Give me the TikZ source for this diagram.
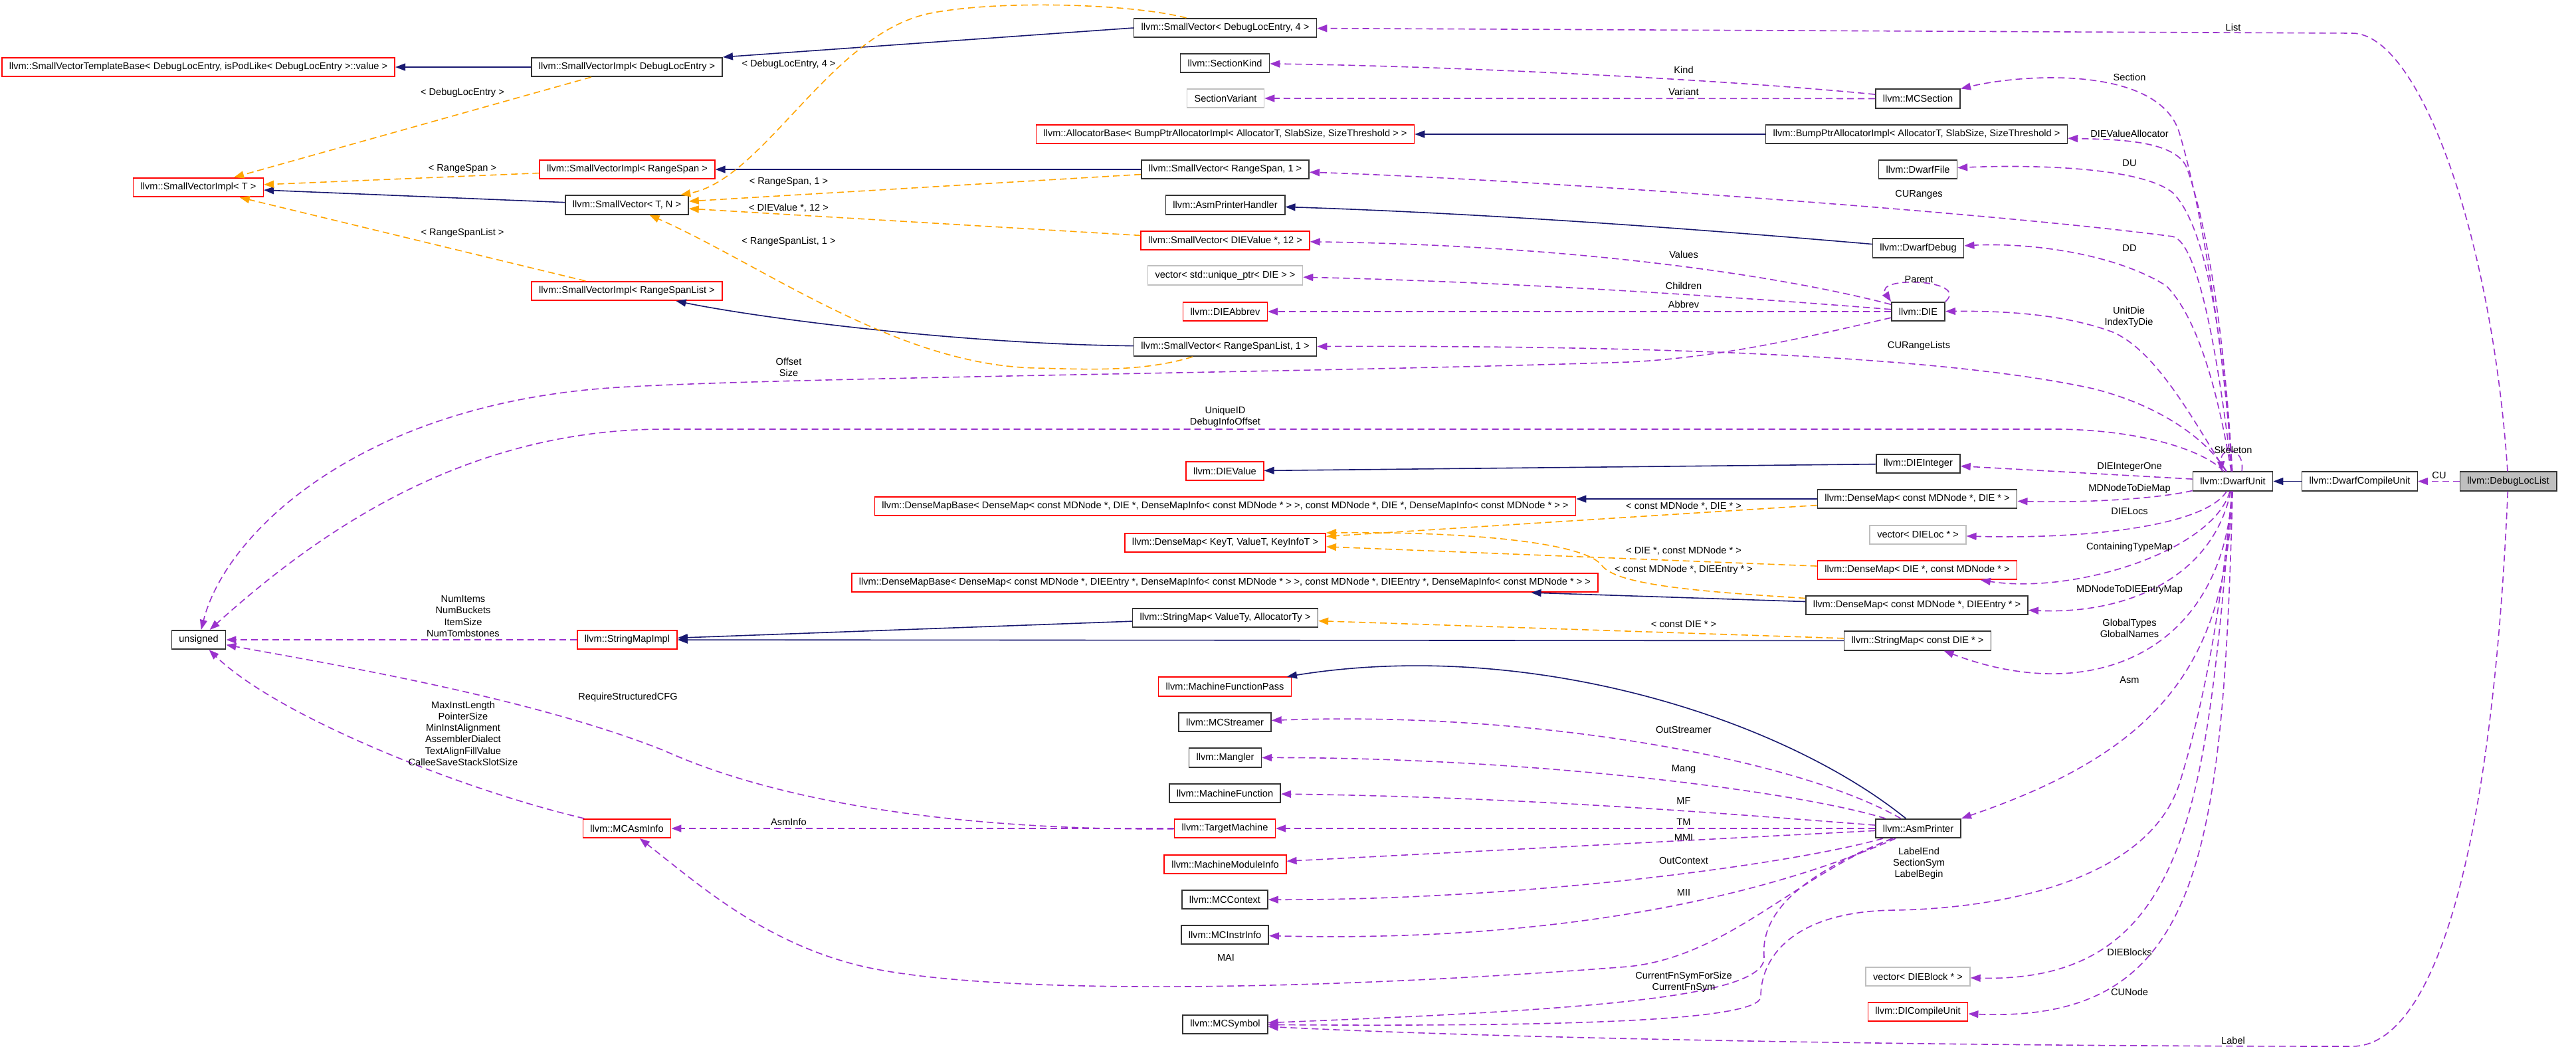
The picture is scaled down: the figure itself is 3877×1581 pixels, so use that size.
\documentclass[tikz,border=0pt]{standalone}
\usepackage{fontspec}
\setmainfont{Liberation Sans}
\usetikzlibrary{arrows.meta}
\definecolor{usecol}{HTML}{9A32CD}
\definecolor{tplcol}{HTML}{FFA500}
\definecolor{inhcol}{HTML}{191970}
\definecolor{boxgray}{HTML}{BFBFBF}

\tikzset{
  cls/.style={draw=black!80, line width=0.8pt, fill=white, inner xsep=5.5pt, inner ysep=0pt,
    minimum height=14.25pt, font=\fontsize{7.3pt}{8.6pt}\selectfont},
  clsred/.style={cls, draw=red},
  clsgray/.style={cls, draw=boxgray},
  lbl/.style={inner sep=0pt, align=center, font=\fontsize{7.3pt}{8.6pt}\selectfont},
  inh/.style={draw=inhcol, line width=0.8pt, -{Triangle[length=7.5pt,width=5.5pt]}},
  tpl/.style={draw=tplcol, line width=0.8pt, dash pattern=on 5pt off 3pt, -{Triangle[length=7.5pt,width=5.5pt]}},
  usg/.style={draw=usecol, line width=0.8pt, dash pattern=on 5pt off 3pt, -{Triangle[length=7.5pt,width=5.5pt]}},
}

\begin{document}
\begin{tikzpicture}[x=0.5pt,y=-0.5pt]
  \fill[white] (0,0) rectangle (3877,1581);
  \useasboundingbox (0,0) rectangle (3877,1581);

  % classes
  \node[clsred] (svtb) at (298.5,101) {llvm::SmallVectorTemplateBase< DebugLocEntry, isPodLike< DebugLocEntry >::value >};
  \node[cls] (sviDLE) at (943.5,101) {llvm::SmallVectorImpl< DebugLocEntry >};
  \node[clsred] (sviT) at (298.5,282) {llvm::SmallVectorImpl< T >};
  \node[clsred] (sviRS) at (944,255) {llvm::SmallVectorImpl< RangeSpan >};
  \node[cls] (svTN) at (943.5,308.5) {llvm::SmallVector< T, N >};
  \node[clsred] (sviRSL) at (943.5,438) {llvm::SmallVectorImpl< RangeSpanList >};
  \node[cls] (svDLE) at (1844,42) {llvm::SmallVector< DebugLocEntry, 4 >};
  \node[cls] (secKind) at (1843.5,95) {llvm::SectionKind};
  \node[clsgray] (secVar) at (1844.5,148) {SectionVariant};
  \node[clsred] (allocBase) at (1844,202) {llvm::AllocatorBase< BumpPtrAllocatorImpl< AllocatorT, SlabSize, SizeThreshold > >};
  \node[cls] (svRS) at (1844,255) {llvm::SmallVector< RangeSpan, 1 >};
  \node[cls] (asmHandler) at (1844,308.5) {llvm::AsmPrinterHandler};
  \node[clsred] (svVal) at (1844,362) {llvm::SmallVector< DIEValue *, 12 >};
  \node[clsgray] (vecDIE) at (1844,414.5) {vector< std::unique\_ptr< DIE > >};
  \node[clsred] (dieAbbrev) at (1844,469) {llvm::DIEAbbrev};
  \node[cls] (svRSL) at (1844,522) {llvm::SmallVector< RangeSpanList, 1 >};
  \node[cls] (mcSection) at (2886.5,148.5) {llvm::MCSection};
  \node[cls] (bumpAlloc) at (2884.5,202) {llvm::BumpPtrAllocatorImpl< AllocatorT, SlabSize, SizeThreshold >};
  \node[cls] (dwarfFile) at (2886.5,255) {llvm::DwarfFile};
  \node[cls] (dwarfDebug) at (2887,373.5) {llvm::DwarfDebug};
  \node[cls] (die) at (2887,469) {llvm::DIE};
  \node[cls] (unsignedN) at (299,963) {unsigned};
  \node[clsred] (smImpl) at (944,963) {llvm::StringMapImpl};
  \node[clsred] (dieValue) at (1843.5,709) {llvm::DIEValue};
  \node[clsred] (dmBase1) at (1844,762) {llvm::DenseMapBase< DenseMap< const MDNode *, DIE *, DenseMapInfo< const MDNode * > >, const MDNode *, DIE *, DenseMapInfo< const MDNode * > >};
  \node[clsred] (dmKey) at (1844,817) {llvm::DenseMap< KeyT, ValueT, KeyInfoT >};
  \node[clsred] (dmBase2) at (1843.5,877) {llvm::DenseMapBase< DenseMap< const MDNode *, DIEEntry *, DenseMapInfo< const MDNode * > >, const MDNode *, DIEEntry *, DenseMapInfo< const MDNode * > >};
  \node[cls] (smValTy) at (1844,930) {llvm::StringMap< ValueTy, AllocatorTy >};
  \node[clsred] (mfPass) at (1843.5,1033.5) {llvm::MachineFunctionPass};
  \node[cls] (dieInt) at (2887,698) {llvm::DIEInteger};
  \node[cls] (dwarfUnit) at (3360.5,724.5) {llvm::DwarfUnit};
  \node[cls] (dwarfCU) at (3551.5,724.5) {llvm::DwarfCompileUnit};
  \node[cls, fill=boxgray] (dbgLocList) at (3775,724.5) {llvm::DebugLocList};
  \node[cls] (dmDIE) at (2885.5,751) {llvm::DenseMap< const MDNode *, DIE * >};
  \node[clsgray] (vecLoc) at (2886.5,805) {vector< DIELoc * >};
  \node[clsred] (dmMD) at (2885.5,858) {llvm::DenseMap< DIE *, const MDNode * >};
  \node[cls] (dmEntry) at (2885,911) {llvm::DenseMap< const MDNode *, DIEEntry * >};
  \node[cls] (smDIE) at (2886,964.5) {llvm::StringMap< const DIE * >};
  \node[clsred] (mcAsmInfo) at (943.5,1247) {llvm::MCAsmInfo};
  \node[cls] (mcStreamer) at (1843.5,1087) {llvm::MCStreamer};
  \node[cls] (mangler) at (1844,1140.5) {llvm::Mangler};
  \node[cls] (machFunc) at (1843.5,1194) {llvm::MachineFunction};
  \node[clsred] (targetMach) at (1843.5,1247) {llvm::TargetMachine};
  \node[clsred] (mmInfo) at (1844,1301) {llvm::MachineModuleInfo};
  \node[cls] (mcContext) at (1843.5,1354) {llvm::MCContext};
  \node[cls] (mcInstr) at (1843.5,1407) {llvm::MCInstrInfo};
  \node[cls] (mcSymbol) at (1844,1542) {llvm::MCSymbol};
  \node[cls] (asmPrinter) at (2887,1247) {llvm::AsmPrinter};
  \node[clsgray] (vecBlock) at (2886.5,1470) {vector< DIEBlock * >};
  \node[clsred] (diCU) at (2886.5,1523) {llvm::DICompileUnit};

  % inheritance
  \draw[inh] (sviDLE) -- (svtb);
  \draw[inh] (svDLE.west) -- (sviDLE.north east);
  \draw[inh] (svTN) -- (sviT);
  \draw[inh] (svRS) -- (sviRS);
  \draw[inh] (svRSL) .. controls (1450,518) and (1150,480) .. (sviRSL);
  \draw[inh] (bumpAlloc) -- (allocBase);
  \draw[inh] (dwarfDebug) .. controls (2500,340) and (2200,320) .. (asmHandler);
  \draw[inh] (dieInt) -- (dieValue);
  \draw[inh] (dmDIE.west) -- (dmBase1.east |- dmDIE.west);
  \draw[inh] (dmEntry) -- (dmBase2);
  \draw[inh] (smValTy) -- (smImpl);
  \draw[inh] (smDIE) -- (smImpl);
  \draw[inh] (asmPrinter) .. controls (2680,1080) and (2300,960) .. (mfPass);
  \draw[inh] (dwarfCU) -- (dwarfUnit);

  % template instances
  \draw[tpl] (sviDLE) -- (sviT);
  \draw[tpl] (sviRS) -- (sviT);
  \draw[tpl] (sviRSL) -- (sviT);
  \draw[tpl] (svDLE) .. controls (1700,5) and (1500,0) .. (1400,20) .. controls (1250,50) and (1150,270) .. (svTN);
  \draw[tpl] (svRS) -- (svTN);
  \draw[tpl] (svVal) -- (svTN);
  \draw[tpl] (svRSL) .. controls (1720,560) and (1640,556) .. (1560,554) .. controls (1350,550) and (1150,400) .. (svTN);
  \draw[tpl] (dmDIE) -- (dmKey);
  \draw[tpl] (dmMD) -- (dmKey);
  \draw[tpl] (dmEntry) .. controls (2550,890) and (2430,880) .. (2410,850) .. controls (2380,815) and (2200,800) .. (dmKey.north east);
  \draw[tpl] (smDIE) -- (smValTy);

  \node[lbl] (lDLE) at (696,140) {< DebugLocEntry >};
  \node[lbl] (lRS) at (696,254) {< RangeSpan >};
  \node[lbl] (lRSL) at (696,351) {< RangeSpanList >};
  \node[lbl] (lDLE4) at (1187,97) {< DebugLocEntry, 4 >};
  \node[lbl] (lRS1) at (1187,274) {< RangeSpan, 1 >};
  \node[lbl] (lVal12) at (1187,313) {< DIEValue *, 12 >};
  \node[lbl] (lRSL1) at (1187,364) {< RangeSpanList, 1 >};
  \node[lbl] (lDMDIE) at (2534,762) {< const MDNode *, DIE * >};
  \node[lbl] (lDMMD) at (2534,829) {< DIE *, const MDNode * >};
  \node[lbl] (lDMEntry) at (2534,858) {< const MDNode *, DIEEntry * >};
  \node[lbl] (lSMDIE) at (2534,940) {< const DIE * >};

  % members
  \draw[usg] (dbgLocList) -- (dwarfCU);
  \draw[usg] (dbgLocList) .. controls (3750,350) and (3640,50) .. (3540,50) -- (svDLE);
  \draw[usg] (dbgLocList) .. controls (3750,1300) and (3660,1575) .. (3540,1575) .. controls (3000,1575) and (2300,1565) .. (mcSymbol);

  \draw[usg] (dwarfUnit) .. controls (3345,500) and (3310,300) .. (3280,200) .. controls (3250,100) and (3050,110) .. (mcSection.north east);
  \draw[usg] (dwarfUnit) .. controls (3345,450) and (3310,300) .. (3290,250) .. controls (3270,210) and (3180,210) .. (bumpAlloc);
  \draw[usg] (dwarfUnit) .. controls (3345,500) and (3320,340) .. (3270,290) .. controls (3220,250) and (3050,248) .. (dwarfFile);
  \draw[usg] (dwarfUnit) .. controls (3340,550) and (3310,365) .. (3270,356) .. controls (3000,320) and (2300,270) .. (svRS);
  \draw[usg] (dwarfUnit) .. controls (3340,600) and (3310,480) .. (3260,430) .. controls (3180,380) and (3050,365) .. (dwarfDebug);
  \draw[usg] (dwarfUnit) .. controls (3310,650) and (3250,530) .. (3180,500) .. controls (3100,470) and (3000,468) .. (die);
  \draw[usg] (dwarfUnit) .. controls (3320,660) and (3250,610) .. (3150,585) .. controls (2900,530) and (2400,520) .. (svRSL);
  \draw[usg] (dwarfUnit) .. controls (3320,680) and (3230,648) .. (3100,646) -- (1000,646) .. controls (700,646) and (480,800) .. (unsignedN);
  \draw[usg] (dwarfUnit.48) .. controls +(5,-38) and +(-3,-38) .. (dwarfUnit.138);
  \draw[usg] (dwarfUnit) -- (dieInt);
  \draw[usg] (dwarfUnit) .. controls (3250,750) and (3150,757) .. (dmDIE);
  \draw[usg] (dwarfUnit) .. controls (3320,790) and (3150,812) .. (vecLoc);
  \draw[usg] (dwarfUnit) .. controls (3330,830) and (3120,895) .. (dmMD);
  \draw[usg] (dwarfUnit) .. controls (3330,870) and (3200,925) .. (dmEntry);
  \draw[usg] (dwarfUnit) .. controls (3345,980) and (3150,1065) .. (smDIE);
  \draw[usg] (dwarfUnit) .. controls (3350,1000) and (3250,1130) .. (asmPrinter.north east);
  \draw[usg] (dwarfUnit) .. controls (3320,1200) and (3300,1480) .. (vecBlock);
  \draw[usg] (dwarfUnit) .. controls (3345,1300) and (3310,1540) .. (diCU);
  \draw[usg] (dwarfUnit) .. controls (3345,900) and (3320,1050) .. (3280,1180) .. controls (3230,1330) and (3000,1368) .. (2850,1370)
    .. controls (2700,1372) and (2650,1440) .. (2650,1500) .. controls (2650,1540) and (2300,1545) .. (mcSymbol);

  \draw[usg] (die) .. controls (2750,500) and (2600,538) .. (2450,545) .. controls (2000,560) and (1200,568) .. (950,582)
    .. controls (550,600) and (340,800) .. (unsignedN);
  \draw[usg] (die) .. controls (2700,420) and (2400,370) .. (svVal);
  \draw[usg] (die) .. controls (2650,450) and (2300,425) .. (vecDIE);
  \draw[usg] (die) -- (dieAbbrev);
  \draw[usg] (die.north east) .. controls (2965,420) and (2820,415) .. (die.north west);

  \draw[usg] (mcSection) .. controls (2600,120) and (2200,100) .. (secKind);
  \draw[usg] (mcSection) -- (secVar);

  \draw[usg] (asmPrinter) .. controls (2700,1140) and (2300,1070) .. (mcStreamer);
  \draw[usg] (asmPrinter) .. controls (2700,1190) and (2300,1140) .. (mangler);
  \draw[usg] (asmPrinter) .. controls (2600,1225) and (2300,1200) .. (machFunc);
  \draw[usg] (asmPrinter) -- (targetMach);
  \draw[usg] (asmPrinter) -- (mmInfo);
  \draw[usg] (asmPrinter) .. controls (2700,1300) and (2300,1355) .. (mcContext);
  \draw[usg] (asmPrinter) .. controls (2700,1330) and (2400,1420) .. (mcInstr);
  \draw[usg] (asmPrinter) .. controls (2700,1320) and (2600,1440) .. (2450,1455) .. controls (2000,1490) and (1500,1500) .. (1300,1455)
    .. controls (1150,1420) and (1050,1330) .. (mcAsmInfo);
  \draw[usg] (asmPrinter) .. controls (2700,1320) and (2650,1380) .. (2655,1440) .. controls (2660,1500) and (2400,1520) .. (mcSymbol);

  \draw[usg] (targetMach) -- (mcAsmInfo);
  \draw[usg] (targetMach) .. controls (1500,1250) and (1200,1220) .. (1000,1130) .. controls (800,1050) and (500,1000) .. (unsignedN);
  \draw[usg] (smImpl) -- (unsignedN);
  \draw[usg] (mcAsmInfo) .. controls (700,1190) and (420,1080) .. (unsignedN);

  \node[lbl] (lCU) at (3671,715) {CU};
  \node[lbl] (lList) at (3361,41) {List};
  \node[lbl] (lLabel) at (3361,1566) {Label};
  \node[lbl] (lSection) at (3205,116) {Section};
  \node[lbl] (lAlloc) at (3205,201) {DIEValueAllocator};
  \node[lbl] (lDU) at (3205,246) {DU};
  \node[lbl] (lCURanges) at (2888,293) {CURanges};
  \node[lbl] (lDD) at (3205,373) {DD};
  \node[lbl] (lUnitDie) at (3204,477) {UnitDie\\IndexTyDie};
  \node[lbl] (lCURL) at (2888,521) {CURangeLists};
  \node[lbl] (lUnique) at (1844,627.5) {UniqueID\\DebugInfoOffset};
  \node[lbl] (lSkel) at (3361,677) {Skeleton};
  \node[lbl] (lIntOne) at (3205,703) {DIEIntegerOne};
  \node[lbl] (lMDDie) at (3205,736) {MDNodeToDieMap};
  \node[lbl] (lLocs) at (3205,770) {DIELocs};
  \node[lbl] (lCTM) at (3205,824) {ContainingTypeMap};
  \node[lbl] (lMDEntry) at (3205,888) {MDNodeToDIEEntryMap};
  \node[lbl] (lGlobal) at (3205,946) {GlobalTypes\\GlobalNames};
  \node[lbl] (lAsm) at (3205,1024) {Asm};
  \node[lbl] (lDIEBlocks) at (3205,1433) {DIEBlocks};
  \node[lbl] (lCUNode) at (3205,1493) {CUNode};
  \node[lbl] (lLabelEnd) at (2888,1299.5) {LabelEnd\\SectionSym\\LabelBegin};
  \node[lbl] (lOffset) at (1187,552.5) {Offset\\Size};
  \node[lbl] (lValues) at (2534,383) {Values};
  \node[lbl] (lChildren) at (2534,430) {Children};
  \node[lbl] (lAbbrev) at (2534,458) {Abbrev};
  \node[lbl] (lParent) at (2888,421) {Parent};
  \node[lbl] (lKind) at (2534,105) {Kind};
  \node[lbl] (lVariant) at (2534,138) {Variant};
  \node[lbl] (lOutStr) at (2534,1098) {OutStreamer};
  \node[lbl] (lMang) at (2534,1158) {Mang};
  \node[lbl] (lMF) at (2534,1205) {MF};
  \node[lbl] (lTM) at (2534,1237) {TM};
  \node[lbl] (lMMI) at (2534,1260) {MMI};
  \node[lbl] (lOutCtx) at (2534,1295) {OutContext};
  \node[lbl] (lMII) at (2534,1343) {MII};
  \node[lbl] (lMAI) at (1845,1441) {MAI};
  \node[lbl] (lCurFn) at (2534,1478.5) {CurrentFnSymForSize\\CurrentFnSym};
  \node[lbl] (lAsmInfo) at (1187,1237) {AsmInfo};
  \node[lbl] (lReq) at (945,1050) {RequireStructuredCFG};
  \node[lbl] (lNum) at (697,927.5) {NumItems\\NumBuckets\\ItemSize\\NumTombstones};
  \node[lbl] (lMax) at (697,1104) {MaxInstLength\\PointerSize\\MinInstAlignment\\AssemblerDialect\\TextAlignFillValue\\CalleeSaveStackSlotSize};
\end{tikzpicture}
\end{document}
